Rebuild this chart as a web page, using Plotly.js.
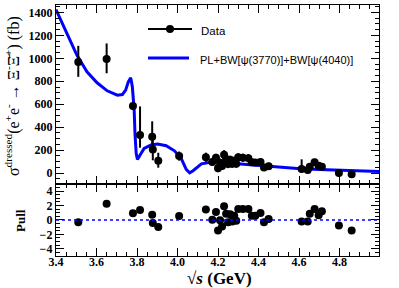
<!DOCTYPE html>
<html>
<head>
<meta charset="utf-8">
<script src="https://cdn.plot.ly/plotly-3.0.1.min.js"></script>
<style>html,body{margin:0;padding:0;background:#fff;}#chart{width:399px;height:288px;}</style>
</head>
<body>
<div id="chart"></div>
<script>
// Measured data points (sqrt(s) in GeV, dressed cross section in fb)
const energy = [3.510, 3.650, 3.780, 3.815, 3.875, 3.878, 3.905, 4.008,
  4.140, 4.172, 4.190, 4.200, 4.210, 4.220, 4.230, 4.240, 4.250, 4.260, 4.270, 4.280, 4.290,
  4.300, 4.323, 4.350, 4.367, 4.384, 4.410, 4.427, 4.450,
  4.613, 4.643, 4.653, 4.677, 4.697, 4.713, 4.797, 4.860];
const xsec = [969, 995, 584, 331, 316, 206, 107, 148,
  138, 97, 133, 43, 91, 62, 160, 122, 78, 116, 81, 107, 82,
  137, 134, 130, 95, 92, 97, 48, 60,
  35, 26, 55, 95, 64, 55, 0, -10];
const errUp = [140, 135, 35, 250, 135, 110, 70, 40,
  40, 35, 35, 35, 35, 35, 40, 35, 35, 35, 35, 35, 35,
  35, 35, 35, 30, 30, 30, 30, 30,
  85, 30, 30, 30, 30, 30, 25, 25];
const errDown = [130, 125, 35, 110, 110, 95, 60, 40,
  40, 35, 35, 35, 35, 35, 40, 35, 35, 35, 35, 35, 35,
  35, 35, 35, 30, 30, 30, 30, 30,
  30, 30, 30, 30, 30, 30, 25, 25];
const pull = [-0.33, 2.27, 0.92, 1.39, 0.74, -0.42, -0.98, 0.56,
  1.44, 0.04, 1.1, -1.45, -0.05, -0.89, 1.9, 0.88, -0.33, 0.78, -0.2, 0.6, -0.1,
  1.53, 1.53, 1.53, 0.6, 0.6, 0.98, -0.33, 0.14,
  -0.2, -0.2, 0.88, 1.53, 0.64, 1.2, -0.75, -1.45];

// Fit curve PL+BW[psi(3770)]+BW[psi(4040)]
const fitX = [3.400, 3.453, 3.503, 3.553, 3.603, 3.653, 3.703, 3.728, 3.744, 3.757, 3.769,
  3.777, 3.786, 3.790, 3.796, 3.802, 3.815, 3.835, 3.869, 3.902, 3.944, 3.985, 4.018,
  4.043, 4.060, 4.077, 4.118, 4.168, 4.218, 4.318, 4.417, 4.517, 4.608, 4.700, 4.800, 4.900, 5.000];
const fitY = [1425, 1217, 1028, 882, 787, 717, 679, 685, 723, 795, 830,
  752, 549, 346, 172, 119, 157, 215, 244, 253, 238, 194, 128,
  32, 2, 20, 80, 96, 93, 78, 61, 48, 38, 32, 26, 20, 14];

const legendLabels = ["Data", "PL+BW[\u03c8(3770)]+BW[\u03c8(4040)]"];
const xTitle = "\u221a<i>s</i> (GeV)";
const yTitle = "\u03c3<sup>dressed</sup>(e<sup>+</sup>e<sup>-</sup> \u2192 \u039e<sup>-</sup>\u039e\u0304<sup>+</sup>) (fb)";
const pullTitle = "Pull";

const serifBold = {family: "Liberation Serif", size: 12, color: "black", weight: "bold"};

const traces = [
  {x: fitX, y: fitY, xaxis: "x2", yaxis: "y", mode: "lines", type: "scatter",
   line: {color: "#0000ff", width: 3}, hoverinfo: "skip", showlegend: false},
  {x: energy, y: xsec, xaxis: "x2", yaxis: "y", mode: "markers", type: "scatter",
   marker: {color: "black", size: 8},
   error_y: {type: "data", symmetric: false, array: errUp, arrayminus: errDown,
             color: "black", thickness: 2, width: 0}, showlegend: false},
  {x: energy, y: pull, xaxis: "x", yaxis: "y2", mode: "markers", type: "scatter",
   marker: {color: "black", size: 8}, showlegend: false}
];

function px2x(p){ return (p - 56) / 323; }
function py2y(p){ return (256 - p) / 251; }

const axisCommon = {showgrid: false, zeroline: false, showline: true, linecolor: "black", linewidth: 1.2,
  ticks: "inside", tickcolor: "black", tickwidth: 1, mirror: "ticks"};

const layout = {
  width: 399, height: 288,
  margin: {l: 56, r: 20, t: 5, b: 32},
  paper_bgcolor: "white", plot_bgcolor: "white",
  showlegend: false,
  xaxis: Object.assign({}, axisCommon, {domain: [0, 1], anchor: "y2", range: [3.4, 4.995],
    dtick: 0.2, tick0: 3.4, tickformat: ".1f", ticklen: 8, tickfont: serifBold, ticklabelstandoff: -6,
    minor: {dtick: 0.05, ticklen: 4, ticks: "inside", tickcolor: "black"}}),
  xaxis2: Object.assign({}, axisCommon, {domain: [0, 1], anchor: "y", matches: "x", range: [3.4, 4.995],
    dtick: 0.2, tick0: 3.4, ticklen: 8, showticklabels: false,
    minor: {dtick: 0.05, ticklen: 4, ticks: "inside", tickcolor: "black"}}),
  yaxis: Object.assign({}, axisCommon, {domain: [0.287, 1], anchor: "x2", range: [-95, 1465],
    dtick: 200, tick0: 0, ticklen: 8, tickfont: serifBold,
    minor: {dtick: 50, ticklen: 4, ticks: "inside", tickcolor: "black"}}),
  yaxis2: Object.assign({}, axisCommon, {domain: [0, 0.287], anchor: "x", range: [-5, 5],
    dtick: 2, tick0: 0, ticklen: 8, tickfont: serifBold,
    minor: {dtick: 0.5, ticklen: 4, ticks: "inside", tickcolor: "black"}}),
  shapes: [
    {type: "line", xref: "x domain", yref: "y2", x0: 0, x1: 1, y0: 0, y1: 0,
     line: {color: "#0000ff", width: 1.5, dash: "dot"}},
    {type: "line", xref: "paper", yref: "paper", x0: px2x(148), x1: px2x(192), y0: py2y(29), y1: py2y(29),
     line: {color: "black", width: 2}},
    {type: "circle", xref: "paper", yref: "paper", xsizemode: "pixel", ysizemode: "pixel",
     xanchor: px2x(170), yanchor: py2y(29), x0: -4, x1: 4, y0: -4, y1: 4,
     fillcolor: "black", line: {color: "black", width: 0}},
    {type: "line", xref: "paper", yref: "paper", x0: px2x(148), x1: px2x(189), y0: py2y(58), y1: py2y(58),
     line: {color: "#0000ff", width: 3}}
  ],
  annotations: [
    {text: legendLabels[0], xref: "paper", yref: "paper", x: px2x(199), y: py2y(31), xanchor: "left", yanchor: "middle",
     showarrow: false, font: {family: "Liberation Sans", size: 11.5, color: "black"}},
    {text: legendLabels[1], xref: "paper", yref: "paper", x: px2x(198), y: py2y(60), xanchor: "left", yanchor: "middle",
     showarrow: false, font: {family: "Liberation Sans", size: 11, color: "black"}},
    {text: yTitle, xref: "paper", yref: "paper", x: px2x(12), y: py2y(96), xanchor: "center", yanchor: "middle",
     textangle: -90, showarrow: false, font: {family: "Liberation Serif", size: 16, color: "black"}},
    {text: pullTitle, xref: "paper", yref: "paper", x: px2x(20), y: py2y(221), xanchor: "center", yanchor: "middle",
     textangle: -90, showarrow: false, font: {family: "Liberation Serif", size: 13, color: "black", weight: "bold"}},
    {text: xTitle, xref: "paper", yref: "paper", x: px2x(219), y: py2y(278), xanchor: "center", yanchor: "middle",
     showarrow: false, font: {family: "Liberation Serif", size: 17, color: "black", weight: "bold"}}
  ]
};

Plotly.newPlot("chart", traces, layout, {staticPlot: true, displayModeBar: false});
</script>
</body>
</html>
